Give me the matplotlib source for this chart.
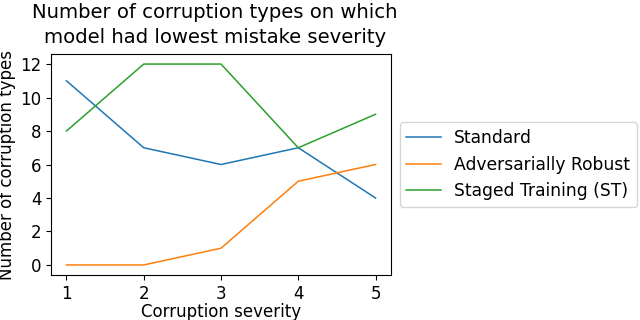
import matplotlib
matplotlib.use("Agg")
import matplotlib.pyplot as plt

severity = [1, 2, 3, 4, 5]
standard = [11, 7, 6, 7, 4]
adv_robust = [0, 0, 1, 5, 6]
staged = [8, 12, 12, 7, 9]
labels = ["Standard", "Adversarially Robust", "Staged Training (ST)"]

plt.rcParams['font.size'] = 12
fig = plt.figure(figsize=(6.4, 3.2), dpi=100)
ax = fig.add_axes([51/640, 1 - 275/320, 340/640, 221/320])
ax.plot(severity, standard, color='#1f77b4', lw=1.1, label=labels[0])
ax.plot(severity, adv_robust, color='#ff7f0e', lw=1.1, label=labels[1])
ax.plot(severity, staged, color='#2ca02c', lw=1.1, label=labels[2])
ax.set_xticks(severity)
ax.set_yticks([0, 2, 4, 6, 8, 10, 12])
ax.set_xlabel("Corruption severity", labelpad=0)
ax.set_ylabel("Number of corruption types", labelpad=3)
ax.set_title("Number of corruption types on which\nmodel had lowest mistake severity",
             fontsize=14.1, linespacing=1.4, pad=8, x=0.482)
ax.legend(loc='center left', bbox_to_anchor=(1.0, 0.5), fontsize=12.3)
fig.savefig("out.png", dpi=100)
